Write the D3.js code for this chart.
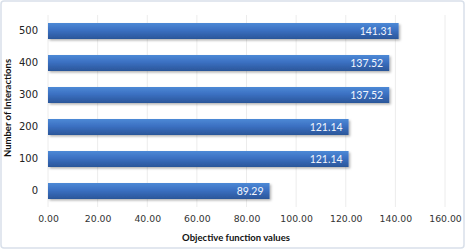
<!DOCTYPE html>
<html><head><meta charset="utf-8">
<script src="https://cdn.jsdelivr.net/npm/d3@7"></script>
<style>body{margin:0;background:#fff}svg{display:block}</style>
</head><body>
<script>
const categories = ["0","100","200","300","400","500"];
const values = [89.29,121.14,121.14,137.52,137.52,141.31];
const xTicks = [0,20,40,60,80,100,120,140,160];

const W=466,H=251;
const svg=d3.select("body").append("svg").attr("width",W).attr("height",H);
const defs=svg.append("defs");
const g=defs.append("linearGradient").attr("id","bg").attr("x1",0).attr("y1",0).attr("x2",0).attr("y2",1);
g.append("stop").attr("offset","0%").attr("stop-color","#4d89d6");
g.append("stop").attr("offset","45%").attr("stop-color","#3b70c2");
g.append("stop").attr("offset","100%").attr("stop-color","#2b5699");
const f=defs.append("filter").attr("id","sh").attr("x","-5%").attr("y","-20%").attr("width","115%").attr("height","160%");
f.append("feDropShadow").attr("dx",1.5).attr("dy",1.5).attr("stdDeviation",1.2).attr("flood-color","#000").attr("flood-opacity",0.3);

svg.append("rect").attr("x",1).attr("y",1).attr("width",W-3).attr("height",H-4).attr("rx",3)
  .attr("fill","#fff").attr("stroke","#d9e0ea").attr("stroke-width",1.5);

const x=d3.scaleLinear().domain([0,160]).range([48,445]);
const y=d3.scaleBand().domain(categories.slice().reverse()).range([15,207]).paddingInner(0.5).paddingOuter(0.25);

// gridlines
svg.append("g").selectAll("line").data(xTicks).join("line")
  .attr("x1",d=>x(d)).attr("x2",d=>x(d)).attr("y1",15).attr("y2",207)
  .attr("stroke","#ececec").attr("stroke-width",1);

const data=categories.map((c,i)=>({c,v:values[i]}));
svg.append("g").selectAll("rect").data(data).join("rect")
  .attr("x",x(0)).attr("y",d=>y(d.c)).attr("width",d=>x(d.v)-x(0)).attr("height",y.bandwidth())
  .attr("fill","url(#bg)").attr("filter","url(#sh)");

svg.append("g").selectAll("text").data(data).join("text")
  .attr("x",d=>x(d.v)-6).attr("y",d=>y(d.c)+y.bandwidth()/2).attr("dy","0.35em")
  .attr("text-anchor","end").attr("fill","#f2f6fc").attr("font-family","Lato, sans-serif").attr("font-size",10.5)
  .text(d=>d.v.toFixed(2));

// y axis labels
const ya=d3.axisLeft(y).tickSize(0).tickPadding(0);
const yg=svg.append("g").attr("transform","translate(38,0)").call(ya);
yg.select(".domain").remove();
yg.selectAll("text").attr("font-family","DejaVu Sans, sans-serif").attr("font-size",10).attr("fill","#222");

const xa=d3.axisBottom(x).tickValues(xTicks).tickSize(0).tickPadding(0).tickFormat(d3.format(".2f"));
const xg=svg.append("g").attr("transform","translate(0,215)").call(xa);
xg.select(".domain").remove();
xg.selectAll("text").attr("font-family","DejaVu Sans, sans-serif").attr("font-size",9.3).attr("fill","#333");

svg.append("text").attr("x",236).attr("y",241).attr("text-anchor","middle")
  .attr("font-family","Lato, sans-serif").attr("font-weight","bold").attr("font-size",9.5).attr("fill","#111")
  .text("Objective function values");
svg.append("text").attr("transform","translate(11,108) rotate(-90)").attr("text-anchor","middle")
  .attr("font-family","Lato, sans-serif").attr("font-weight","bold").attr("font-size",9.5).attr("fill","#111")
  .text("Number of Interactions");
</script>
</body></html>
